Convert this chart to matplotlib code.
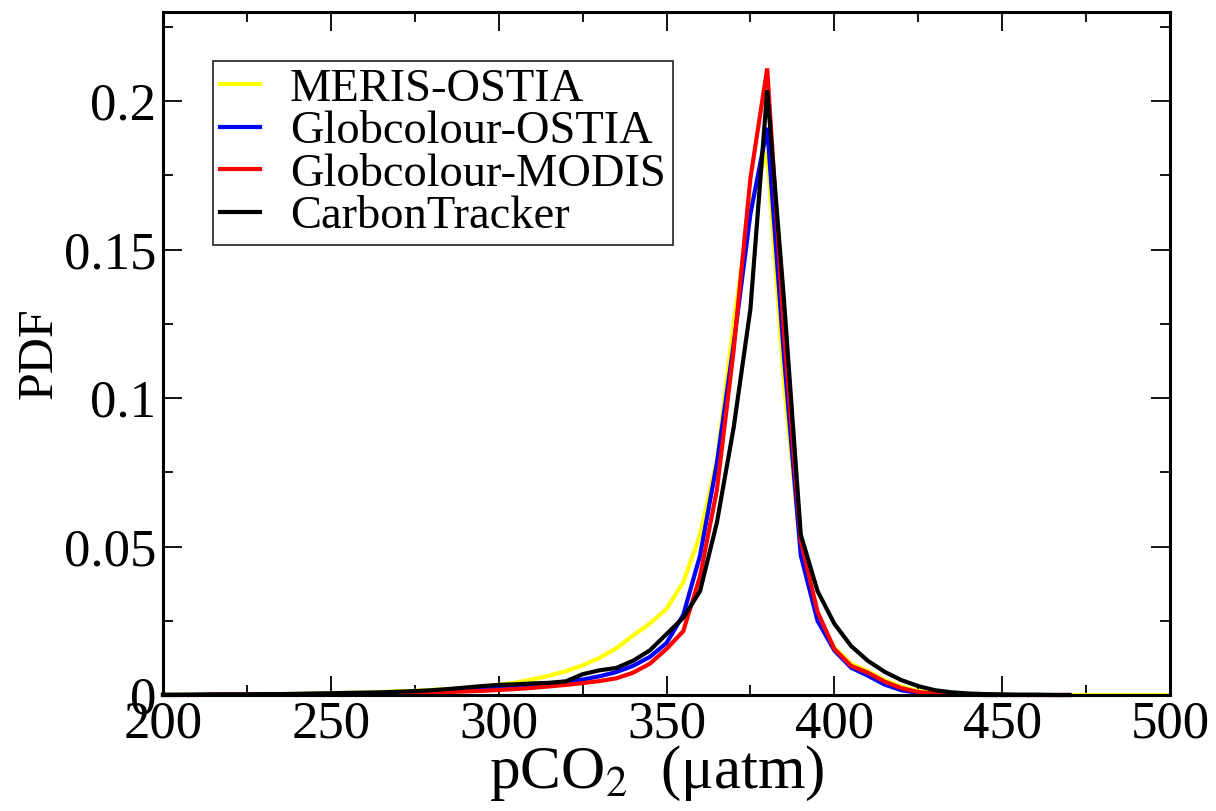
import numpy as np
import matplotlib
matplotlib.use("Agg")
import matplotlib.pyplot as plt
from matplotlib.ticker import MultipleLocator, FuncFormatter

plt.rcParams['font.family'] = ['Liberation Serif', 'DejaVu Serif']
plt.rcParams['mathtext.fontset'] = 'stix'

x_full = list(range(200, 505, 5))

meris_ostia = [0.0000, 0.0001, 0.0001, 0.0001, 0.0002, 0.0002, 0.0003, 0.0003, 0.0004, 0.0005,
               0.0006, 0.0007, 0.0008, 0.0010, 0.0012, 0.0014, 0.0017, 0.0020, 0.0024, 0.0029,
               0.0034, 0.0042, 0.0052, 0.0065, 0.0080, 0.0100, 0.0125, 0.0157, 0.0200, 0.0240,
               0.0290, 0.0380, 0.0540, 0.0790, 0.1250, 0.1650, 0.1830, 0.1050, 0.0490, 0.0260,
               0.0160, 0.0105, 0.0080, 0.0050, 0.0028, 0.0013, 0.0006, 0.0003, 0.0002, 0.0001,
               0.0001, 0.0000, 0.0000, 0.0000, 0.0000, 0.0000, 0.0000, 0.0000, 0.0000, 0.0000,
               0.0000]

x_short = list(range(200, 475, 5))

globcolour_ostia = [0.0000, 0.0000, 0.0001, 0.0001, 0.0001, 0.0001, 0.0002, 0.0002, 0.0002, 0.0003,
                    0.0003, 0.0004, 0.0005, 0.0006, 0.0007, 0.0009, 0.0011, 0.0014, 0.0017, 0.0020,
                    0.0024, 0.0028, 0.0033, 0.0038, 0.0044, 0.0052, 0.0063, 0.0077, 0.0098, 0.0128,
                    0.0175, 0.0270, 0.0470, 0.0780, 0.1180, 0.1620, 0.1910, 0.1140, 0.0470, 0.0250,
                    0.0150, 0.0092, 0.0065, 0.0035, 0.0016, 0.0007, 0.0003, 0.0001, 0.0001, 0.0000,
                    0.0000, 0.0000, 0.0000, 0.0000, 0.0000]

globcolour_modis = [0.0000, 0.0000, 0.0000, 0.0001, 0.0001, 0.0001, 0.0001, 0.0001, 0.0002, 0.0002,
                    0.0002, 0.0003, 0.0003, 0.0004, 0.0005, 0.0006, 0.0008, 0.0010, 0.0012, 0.0014,
                    0.0017, 0.0020, 0.0024, 0.0029, 0.0034, 0.0040, 0.0047, 0.0056, 0.0075, 0.0105,
                    0.0155, 0.0215, 0.0400, 0.0690, 0.1160, 0.1740, 0.2110, 0.1220, 0.0520, 0.0280,
                    0.0155, 0.0098, 0.0075, 0.0045, 0.0023, 0.0010, 0.0004, 0.0002, 0.0001, 0.0000,
                    0.0000, 0.0000, 0.0000, 0.0000, 0.0000]

carbontracker = [0.0001, 0.0001, 0.0001, 0.0002, 0.0002, 0.0002, 0.0003, 0.0003, 0.0004, 0.0005,
                 0.0006, 0.0007, 0.0008, 0.0009, 0.0011, 0.0013, 0.0016, 0.0020, 0.0025, 0.0030,
                 0.0034, 0.0036, 0.0039, 0.0041, 0.0046, 0.0070, 0.0083, 0.0091, 0.0115, 0.0150,
                 0.0205, 0.0260, 0.0350, 0.0580, 0.0900, 0.1300, 0.2037, 0.1330, 0.0540, 0.0350,
                 0.0240, 0.0165, 0.0115, 0.0078, 0.0050, 0.0030, 0.0016, 0.0009, 0.0005, 0.0003,
                 0.0002, 0.0001, 0.0001, 0.0000, 0.0000]

labels = ["MERIS-OSTIA", "Globcolour-OSTIA", "Globcolour-MODIS", "CarbonTracker"]
colors = ["#ffff00", "#0000ff", "#ff0000", "#000000"]

fig = plt.figure(figsize=(12.16, 8.11), dpi=100)
ax = fig.add_axes([163/1216, 1 - 695/811, (1170-163)/1216, (695-12)/811])

series = [(x_full, meris_ostia), (x_short, globcolour_ostia),
          (x_short, globcolour_modis), (x_short, carbontracker)]
for (xs, ys), lab, col in zip(series, labels, colors):
    ax.plot(xs, ys, color=col, lw=3.0, label=lab, clip_on=False, solid_joinstyle='miter')

ax.set_xlim(200, 500)
ax.set_ylim(0, 0.23)
ax.xaxis.set_major_locator(MultipleLocator(50))
ax.xaxis.set_minor_locator(MultipleLocator(25))
ax.yaxis.set_major_locator(MultipleLocator(0.05))
ax.yaxis.set_minor_locator(MultipleLocator(0.025))
ax.yaxis.set_major_formatter(FuncFormatter(lambda v, p: ("%g" % round(v, 3))))

ax.tick_params(which='both', direction='in', top=True, right=True, width=1.3, labelsize=38)
ax.tick_params(which='major', length=14)
ax.tick_params(which='minor', length=7)
ax.tick_params(axis='x', pad=4)
ax.tick_params(axis='y', pad=5)
for s in ax.spines.values():
    s.set_linewidth(2.2)

ax.set_xlabel("pCO$_2$  (μatm)", fontsize=44)
ax.xaxis.set_label_coords(0.4906, -0.072)
ax.set_ylabel("PDF", fontsize=36)
ax.yaxis.set_label_coords(-0.100, 0.5)

leg = ax.legend(loc='upper left', bbox_to_anchor=((213-163)/1007, 1 - (61-12)/683),
                fontsize=33.5, frameon=True, fancybox=False, handlelength=0.85,
                handletextpad=0.65, borderpad=0.15, labelspacing=0.0, borderaxespad=0)
leg.get_frame().set_edgecolor('black')
leg.get_frame().set_linewidth(1.3)
for l in leg.get_lines():
    l.set_linewidth(3.0)

fig.savefig("out.png", dpi=100)
